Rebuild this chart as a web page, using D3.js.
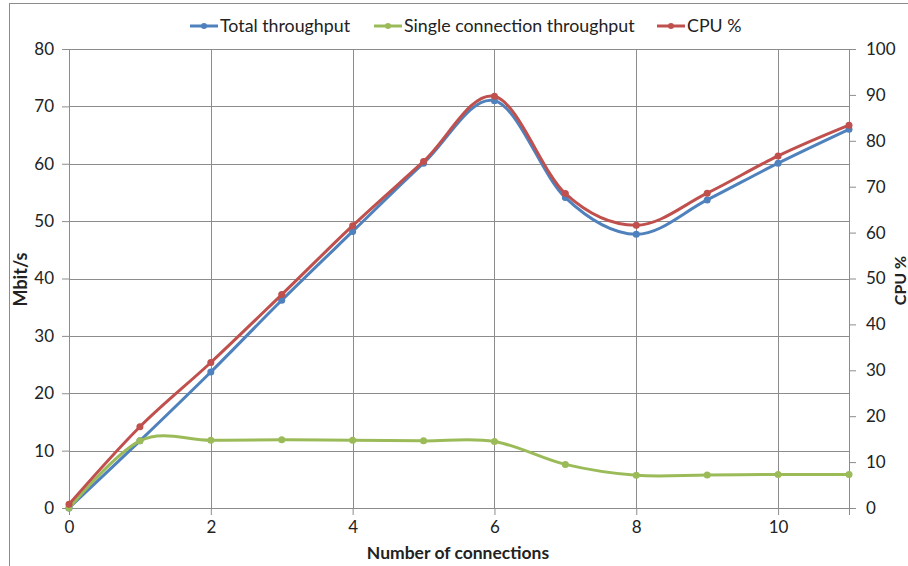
<!DOCTYPE html>
<meta charset="utf-8">
<script src="https://d3js.org/d3.v7.min.js"></script>
<style>
  body { margin: 0; background: #fff; }
  text { font-family: Lato, "Open Sans", sans-serif; fill: #222; }
</style>
<div id="chart"></div>
<script>

// connections on the x axis
var connections = [0, 1, 2, 3, 4, 5, 6, 7, 8, 9, 10, 11];
// Mbit/s, left axis
var totalThroughput = [0, 11.7, 23.7, 36.2, 48.2, 60.1, 71.0, 54.1, 47.7, 53.7, 60.1, 66.0];
var singleThroughput = [0, 11.7, 11.8, 11.9, 11.8, 11.7, 11.6, 7.6, 5.7, 5.75, 5.85, 5.85];
// percent, right axis
var cpuPercent = [0.8, 17.7, 31.7, 46.5, 61.5, 75.5, 89.7, 68.5, 61.6, 68.6, 76.7, 83.4];

var xTicks = [0, 2, 4, 6, 8, 10];
var leftTicks = [0, 10, 20, 30, 40, 50, 60, 70, 80];
var rightTicks = [0, 10, 20, 30, 40, 50, 60, 70, 80, 90, 100];

var series = [
    {name: "Total throughput", values: totalThroughput, color: "#4F81BD", axis: "left"},
    {name: "Single connection throughput", values: singleThroughput, color: "#9BBB59", axis: "left"},
    {name: "CPU %", values: cpuPercent, color: "#C0504D", axis: "right"}
];

var W = 908, H = 566;
var margin = {top: 49, right: 59, bottom: 58, left: 69},
    width = W - margin.left - margin.right,
    height = H - margin.top - margin.bottom;

var svg = d3.select("#chart").append("svg")
    .attr("width", W)
    .attr("height", H);

// outer chart frame
svg.append("rect")
    .attr("x", 9.5).attr("y", 3.5)
    .attr("width", W).attr("height", H)
    .attr("fill", "none")
    .attr("stroke", "#8c8c8c");

var g = svg.append("g")
    .attr("transform", "translate(" + margin.left + "," + margin.top + ")");

var x = d3.scaleLinear().domain([0, 11]).range([0, width]);
var yLeft = d3.scaleLinear().domain([0, 80]).range([height, 0]);
var yRight = d3.scaleLinear().domain([0, 100]).range([height, 0]);

var gridColor = "#8c8c8c";

// horizontal grid
g.append("g")
    .selectAll("line")
    .data(leftTicks)
    .enter().append("line")
    .attr("x1", 0).attr("x2", width)
    .attr("y1", function(d) { return Math.round(yLeft(d)) + 0.5; })
    .attr("y2", function(d) { return Math.round(yLeft(d)) + 0.5; })
    .attr("stroke", gridColor);

// vertical grid
g.append("g")
    .selectAll("line")
    .data(xTicks)
    .enter().append("line")
    .attr("x1", function(d) { return Math.round(x(d)) + 0.5; })
    .attr("x2", function(d) { return Math.round(x(d)) + 0.5; })
    .attr("y1", 0).attr("y2", height)
    .attr("stroke", gridColor);

// axes
var xAxis = g.append("g")
    .attr("transform", "translate(0," + height + ")")
    .call(d3.axisBottom(x).tickValues(xTicks).tickSize(7).tickPadding(6));

var leftAxis = g.append("g")
    .call(d3.axisLeft(yLeft).tickValues(leftTicks).tickSize(7).tickPadding(8));

var rightAxis = g.append("g")
    .attr("transform", "translate(" + width + ",0)")
    .call(d3.axisRight(yRight).tickValues(rightTicks).tickSize(7).tickPadding(10));

[xAxis, leftAxis, rightAxis].forEach(function(a) {
    a.selectAll("path.domain").attr("stroke", gridColor);
    a.selectAll(".tick line").attr("stroke", gridColor);
    a.selectAll(".tick text")
        .style("font-family", "Lato, 'Open Sans', sans-serif")
        .style("font-size", "17px")
        .attr("fill", "#222");
});
// left axis line sits on the grid line at 0
leftAxis.select("path.domain").attr("d", "M0.5,0V" + height);

// lines, smoothed like the spreadsheet
var line = d3.line()
    .curve(d3.curveCardinal.tension(0));

series.forEach(function(s) {
    var yS = s.axis === "left" ? yLeft : yRight;
    var pts = connections.map(function(c, i) { return [x(c), yS(s.values[i])]; });

    g.append("path")
        .datum(pts)
        .attr("d", line)
        .attr("fill", "none")
        .attr("stroke", s.color)
        .attr("stroke-width", 3);

    g.append("g")
        .selectAll("circle")
        .data(pts)
        .enter().append("circle")
        .attr("cx", function(d) { return d[0]; })
        .attr("cy", function(d) { return d[1]; })
        .attr("r", 3.5)
        .attr("fill", s.color);
});

// axis titles
svg.append("text")
    .attr("x", margin.left + width / 2 - 1)
    .attr("y", 559)
    .attr("text-anchor", "middle")
    .style("font-size", "17.5px")
    .style("font-weight", "bold")
    .text("Number of connections");

svg.append("text")
    .attr("transform", "translate(27," + (margin.top + height / 2 + 1) + ") rotate(-90)")
    .attr("text-anchor", "middle")
    .style("font-size", "18px")
    .style("font-weight", "bold")
    .text("Mbit/s");

svg.append("text")
    .attr("transform", "translate(906," + (margin.top + height / 2 + 2) + ") rotate(-90)")
    .attr("text-anchor", "middle")
    .style("font-size", "16px")
    .style("font-weight", "bold")
    .text("CPU %");

// legend
var legendX = [190, 374, 657];
var legend = svg.append("g");
series.forEach(function(s, i) {
    var lg = legend.append("g").attr("transform", "translate(" + legendX[i] + ",26)");
    lg.append("line")
        .attr("x1", 0).attr("x2", 28)
        .attr("stroke", s.color)
        .attr("stroke-width", 3);
    lg.append("circle")
        .attr("cx", 14).attr("r", 3)
        .attr("fill", s.color);
    lg.append("text")
        .attr("x", 30)
        .attr("dy", "0.35em")
        .style("font-size", "17.8px")
        .text(s.name);
});

</script>
